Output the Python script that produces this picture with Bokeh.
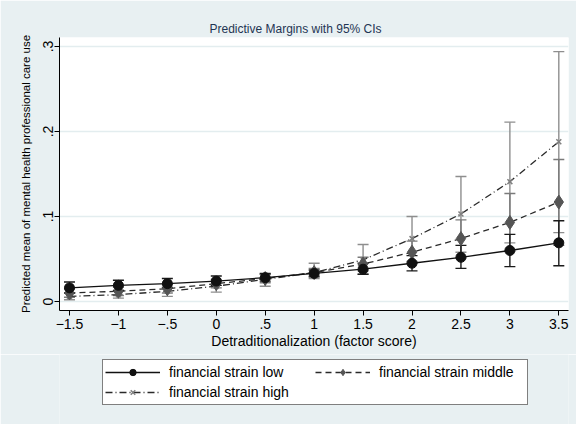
from bokeh.plotting import figure
from bokeh.layouts import column
from bokeh.models import (ColumnDataSource, Whisker, TeeHead, Legend, LegendItem,
                          FixedTicker, Range1d, Title)
from bokeh.embed import file_html
from bokeh.resources import INLINE

# ---- data ----
x_vals = [-1.5, -1, -0.5, 0, 0.5, 1, 1.5, 2, 2.5, 3, 3.5]

low = [0.016, 0.019, 0.021, 0.024, 0.028, 0.033, 0.038, 0.045, 0.052, 0.060, 0.069]
low_lo = [0.010, 0.013, 0.016, 0.019, 0.024, 0.029, 0.032, 0.036, 0.039, 0.041, 0.042]
low_hi = [0.023, 0.025, 0.027, 0.030, 0.033, 0.037, 0.045, 0.054, 0.066, 0.079, 0.095]

middle = [0.010, 0.012, 0.015, 0.021, 0.027, 0.034, 0.044, 0.058, 0.074, 0.093, 0.117]
middle_lo = [0.005, 0.007, 0.010, 0.016, 0.022, 0.030, 0.036, 0.045, 0.051, 0.059, 0.066]
middle_hi = [0.015, 0.017, 0.020, 0.026, 0.032, 0.039, 0.052, 0.071, 0.096, 0.127, 0.167]

high = [0.006, 0.008, 0.012, 0.018, 0.026, 0.034, 0.049, 0.074, 0.103, 0.141, 0.188]
high_lo = [0.002, 0.004, 0.006, 0.011, 0.018, 0.027, 0.032, 0.047, 0.058, 0.069, 0.081]
high_hi = [0.010, 0.013, 0.017, 0.024, 0.032, 0.045, 0.067, 0.100, 0.147, 0.211, 0.294]

x_ticks = [-1.5, -1, -0.5, 0, 0.5, 1, 1.5, 2, 2.5, 3, 3.5]
x_tick_labels = ["\u22121.5", "\u22121", "\u2212.5", "0", ".5", "1", "1.5", "2", "2.5", "3", "3.5"]
y_ticks = [0, 0.1, 0.2, 0.3]
y_tick_labels = ["0", ".1", ".2", ".3"]

series_names = ["financial strain low", "financial strain middle", "financial strain high"]

# ---- styling ----
FONT = "Liberation Sans"
BG = "#E8F0F2"
GRID = "#E3EDEF"
W = 576
H_MAIN = 354
H_LEG = 70

p = figure(width=W, height=H_MAIN, output_backend="svg", toolbar_location=None,
           x_range=Range1d(-1.602, 3.599), y_range=Range1d(-0.0106, 0.3106),
           min_border_left=59, min_border_right=8, min_border_top=37,
           min_border_bottom=44)
p.background_fill_color = "white"
p.border_fill_color = BG
p.outline_line_color = None

p.title = Title(text="Predictive Margins with 95% CIs", text_font=FONT,
                text_font_size="12px", text_font_style="normal",
                text_color="#1F3552", align="left", offset=150, standoff=3)

# axes
p.xaxis.ticker = FixedTicker(ticks=x_ticks)
p.xaxis.major_label_overrides = dict(zip(x_ticks, x_tick_labels))
p.yaxis.ticker = FixedTicker(ticks=y_ticks)
p.yaxis.major_label_overrides = dict(zip(y_ticks, y_tick_labels))
p.yaxis.major_label_orientation = "vertical"
p.xaxis.axis_label = "Detraditionalization (factor score)"
p.yaxis.axis_label = "Predicted mean of mental health professional care use"
for ax in (p.xaxis, p.yaxis):
    ax.axis_label_text_font = FONT
    ax.axis_label_text_font_size = "14px"
    ax.axis_label_text_font_style = "normal"
    ax.axis_label_text_color = "black"
    ax.major_label_text_font = FONT
    ax.major_label_text_font_size = "14px"
    ax.major_label_text_color = "black"
    ax.axis_line_color = "black"
    ax.major_tick_line_color = "black"
    ax.major_tick_out = 5
    ax.major_tick_in = 0
    ax.minor_tick_line_color = None
p.xaxis.major_label_standoff = 3
p.yaxis.major_label_standoff = 1
p.xaxis.axis_label_standoff = 1
p.yaxis.axis_label_text_font_size = "11.5px"
p.yaxis.axis_label_standoff = 9

p.xgrid.grid_line_color = None
p.ygrid.ticker = FixedTicker(ticks=y_ticks)
p.ygrid.grid_line_color = GRID
p.ygrid.grid_line_width = 1.5

# confidence intervals
def add_ci(lo, hi, color):
    src = ColumnDataSource(dict(x=x_vals, lo=lo, hi=hi))
    w = Whisker(source=src, base="x", lower="lo", upper="hi", dimension="height",
                line_color=color, line_width=1.4, level="underlay",
                upper_head=TeeHead(size=11, line_color=color, line_width=1.4),
                lower_head=TeeHead(size=11, line_color=color, line_width=1.4))
    p.add_layout(w)

add_ci(high_lo, high_hi, "#8E8E8E")
add_ci(middle_lo, middle_hi, "#7A7A7A")
add_ci(low_lo, low_hi, "#1A1A1A")


def draw_series(fig):
    src_low = ColumnDataSource(dict(x=x_vals, y=low))
    src_mid = ColumnDataSource(dict(x=x_vals, y=middle))
    src_high = ColumnDataSource(dict(x=x_vals, y=high))
    l_high = fig.line("x", "y", source=src_high, line_color="#2A2A2A", line_width=1.3,
                      line_dash="7 3 1 3")
    m_high = fig.scatter("x", "y", source=src_high, marker="x", size=7,
                         line_color="#808080", line_width=1.5)
    l_mid = fig.line("x", "y", source=src_mid, line_color="#2A2A2A", line_width=1.3,
                     line_dash="6 4")
    m_mid = fig.scatter("x", "y", source=src_mid, marker="diamond", size=14,
                        fill_color="#555555", line_color="#555555")
    l_low = fig.line("x", "y", source=src_low, line_color="#111111", line_width=1.3)
    m_low = fig.scatter("x", "y", source=src_low, marker="circle", size=10,
                        fill_color="#111111", line_color="#111111")
    return [(l_low, m_low), (l_mid, m_mid), (l_high, m_high)]

draw_series(p)

# legend strip (a second figure that only shows the legend; its ranges keep
# the series' own marks out of view)
lf = figure(width=W, height=H_LEG, output_backend="svg", toolbar_location=None,
            x_range=Range1d(100, 101), y_range=Range1d(100, 101),
            x_axis_type=None, y_axis_type=None,
            min_border_left=0, min_border_right=0, min_border_top=0,
            min_border_bottom=0)
lf.background_fill_color = BG
lf.border_fill_color = BG
lf.outline_line_color = None
lf.xgrid.visible = False
lf.ygrid.visible = False
pairs = draw_series(lf)

legend = Legend(items=[LegendItem(label=n, renderers=list(r))
                       for n, r in zip(series_names, pairs)],
                orientation="horizontal", ncols=2, location=(43, 19))
legend.label_text_font = FONT
legend.label_text_font_size = "14px"
legend.label_text_color = "black"
legend.glyph_width = 55
legend.glyph_height = 16
legend.label_height = 20
legend.label_width = 146
legend.label_standoff = 9
legend.spacing = 0
legend.padding = 2
legend.margin = 0
legend.border_line_color = "black"
legend.border_line_width = 1
legend.background_fill_color = "white"
legend.background_fill_alpha = 1
lf.add_layout(legend, "center")

layout = column(p, lf, spacing=0)
open("out.html", "w").write(file_html(layout, INLINE))
